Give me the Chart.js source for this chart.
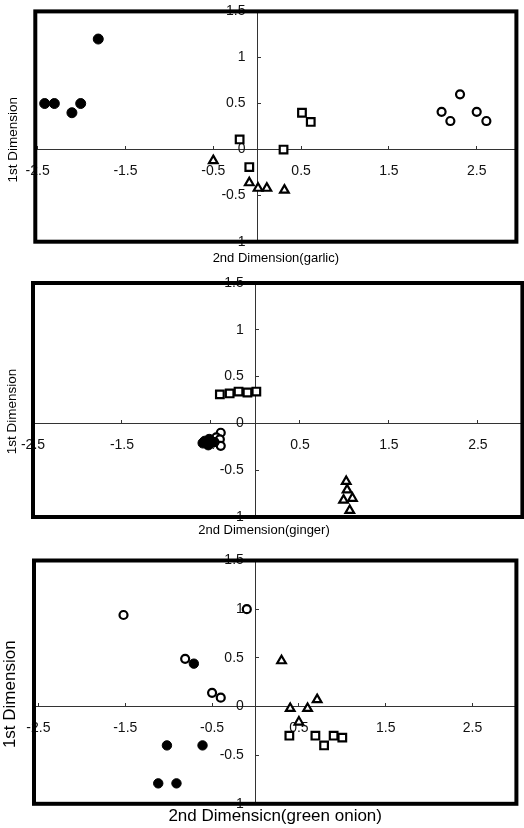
<!DOCTYPE html>
<html>
<head>
<meta charset="utf-8">
<title>MDS plots</title>
<script src="https://cdn.jsdelivr.net/npm/chart.js@4"></script>
<style>
  html, body { margin: 0; padding: 0; background: #fff; overflow: hidden; }
  body { width: 524px; height: 828px; position: relative; }
  canvas { position: absolute; left: 0; }
</style>
</head>
<body>
<canvas id="garlic" width="524" height="270" style="top:0"></canvas>
<canvas id="ginger" width="530" height="270" style="top:270px"></canvas>
<canvas id="onion" width="524" height="288" style="top:540px"></canvas>
<script>
// tick values shared by the three plots
const xTicks = [-2.5, -1.5, -0.5, 0.5, 1.5, 2.5];
const yTicks = [-1, -0.5, 0, 0.5, 1, 1.5];

// garlic
const garlicSolid = [[-1.81, 1.2], [-2.42, 0.5], [-2.31, 0.5], [-2.11, 0.4], [-2.01, 0.5]];
const garlicOpen = [[2.31, 0.6], [2.1, 0.41], [2.2, 0.31], [2.5, 0.41], [2.61, 0.31]];
const garlicSquare = [[-0.2, 0.11], [-0.09, -0.19], [0.3, 0], [0.51, 0.4], [0.61, 0.3]];
const garlicTri = [[-0.5, -0.12], [-0.09, -0.36], [0.01, -0.42], [0.11, -0.42], [0.31, -0.44]];

// ginger
const gingerSolid = [[-0.57, -0.19], [-0.52, -0.17], [-0.48, -0.2], [-0.53, -0.23], [-0.59, -0.21]];
const gingerOpen = [[-0.39, -0.1], [-0.44, -0.15], [-0.4, -0.17], [-0.39, -0.24], [-0.46, -0.2]];
const gingerSquare = [[-0.4, 0.31], [-0.29, 0.32], [-0.19, 0.34], [-0.09, 0.33], [0.01, 0.34]];
const gingerTri = [[1.02, -0.62], [1.03, -0.71], [0.99, -0.82], [1.09, -0.8], [1.06, -0.93]];

// green onion
const onionSolid = [[-0.71, 0.44], [-1.02, -0.4], [-0.61, -0.4], [-1.12, -0.79], [-0.91, -0.79]];
const onionOpen = [[-1.52, 0.94], [-0.81, 0.49], [-0.5, 0.14], [-0.4, 0.09], [-0.1, 1.0]];
const onionSquare = [[0.39, -0.3], [0.69, -0.3], [0.79, -0.4], [0.9, -0.3], [1.0, -0.32]];
const onionTri = [[0.3, 0.47], [0.4, -0.02], [0.6, -0.02], [0.71, 0.07], [0.5, -0.16]];

const FONT = '"Liberation Sans", Arial, sans-serif';

const frame = {
  id: 'frame',
  afterDraw(chart) {
    const { ctx, chartArea: a } = chart;
    ctx.save();
    ctx.lineWidth = 4;
    ctx.strokeStyle = '#000';
    ctx.strokeRect(a.left, a.top, a.right - a.left, a.bottom - a.top);
    ctx.restore();
  }
};

const pts = arr => arr.map(p => ({ x: p[0], y: p[1] }));

function groups(solid, open, square, tri, r) {
  return [
    { data: pts(solid), pointStyle: 'circle', pointRadius: r, backgroundColor: '#000', borderColor: '#000', borderWidth: 1 },
    { data: pts(open), pointStyle: 'circle', pointRadius: 4, backgroundColor: '#fff', borderColor: '#000', borderWidth: 2.2 },
    { data: pts(square), pointStyle: 'rect', pointRadius: 5.4, backgroundColor: '#fff', borderColor: '#000', borderWidth: 2.2 },
    { data: pts(tri), pointStyle: 'triangle', pointRadius: 5, backgroundColor: '#fff', borderColor: '#000', borderWidth: 2.2 }
  ];
}

function panel(id, o) {
  new Chart(document.getElementById(id), {
    type: 'scatter',
    data: { datasets: o.datasets },
    plugins: [frame],
    options: {
      responsive: false,
      animation: false,
      layout: { padding: o.pad },
      plugins: {
        legend: { display: false },
        tooltip: { enabled: false },
        title: {
          display: true, position: 'bottom', text: o.xTitle, color: '#000',
          fullSize: o.titleFull,
          font: { family: FONT, size: o.titleSize, weight: 'normal' },
          padding: o.titlePad
        },
        subtitle: {
          display: true, position: 'left', text: '1st Dimension', color: '#000',
          font: { family: FONT, size: o.ySize, weight: 'normal' },
          padding: o.subPad
        }
      },
      scales: {
        x: {
          type: 'linear', min: o.xMin, max: o.xMax,
          position: { y: 0 },
          afterBuildTicks: s => { s.ticks = xTicks.map(v => ({ value: v })); },
          border: { display: true, color: '#333', width: 1 },
          grid: { drawOnChartArea: false, drawTicks: true, tickLength: -4, color: '#333' },
          ticks: { color: '#111', font: { family: FONT, size: 14 }, padding: 17, maxRotation: 0, autoSkip: false,
            callback: v => String(v) }
        },
        y: {
          type: 'linear', min: -1, max: 1.5,
          position: { x: 0 },
          afterBuildTicks: s => { s.ticks = yTicks.map(v => ({ value: v })); },
          border: { display: true, color: '#333', width: 1 },
          grid: { drawOnChartArea: false, drawTicks: true, tickLength: -4, color: '#333' },
          ticks: { color: '#111', font: { family: FONT, size: 14 }, autoSkip: false,
            callback: v => String(v) + '   ' }
        }
      }
    }
  });
}

panel('garlic', {
  datasets: groups(garlicSolid, garlicOpen, garlicSquare, garlicTri, 5),
  xMin: -2.527, xMax: 2.952,
  xTitle: '2nd Dimension(garlic)', titleSize: 13, ySize: 13.5, titleFull: false,
  pad: { left: 0, right: 5.2, top: 9.5, bottom: 0 },
  titlePad: { top: 8.5, bottom: 4.2 },
  subPad: { top: 4.9, bottom: 14.2 }
});

panel('ginger', {
  datasets: groups(gingerSolid, gingerOpen, gingerSquare, gingerTri, 5),
  xMin: -2.5, xMax: 3,
  xTitle: '2nd Dimension(ginger)', titleSize: 13, ySize: 13.5, titleFull: true,
  pad: { left: 0, right: 2, top: 13, bottom: 0 },
  titlePad: { top: 5.2, bottom: 2.2 },
  subPad: { top: 4.4, bottom: 12.4 }
});

panel('onion', {
  datasets: groups(onionSolid, onionOpen, onionSquare, onionTri, 4.7),
  xMin: -2.551, xMax: 3.005,
  xTitle: '2nd Dimensicn(green onion)', titleSize: 17, ySize: 17, titleFull: false,
  pad: { left: 0, right: 5, top: 20.5, bottom: 0 },
  titlePad: { top: 2.6, bottom: 1.2 },
  subPad: { top: 0, bottom: 13.6 }
});
</script>
</body>
</html>
